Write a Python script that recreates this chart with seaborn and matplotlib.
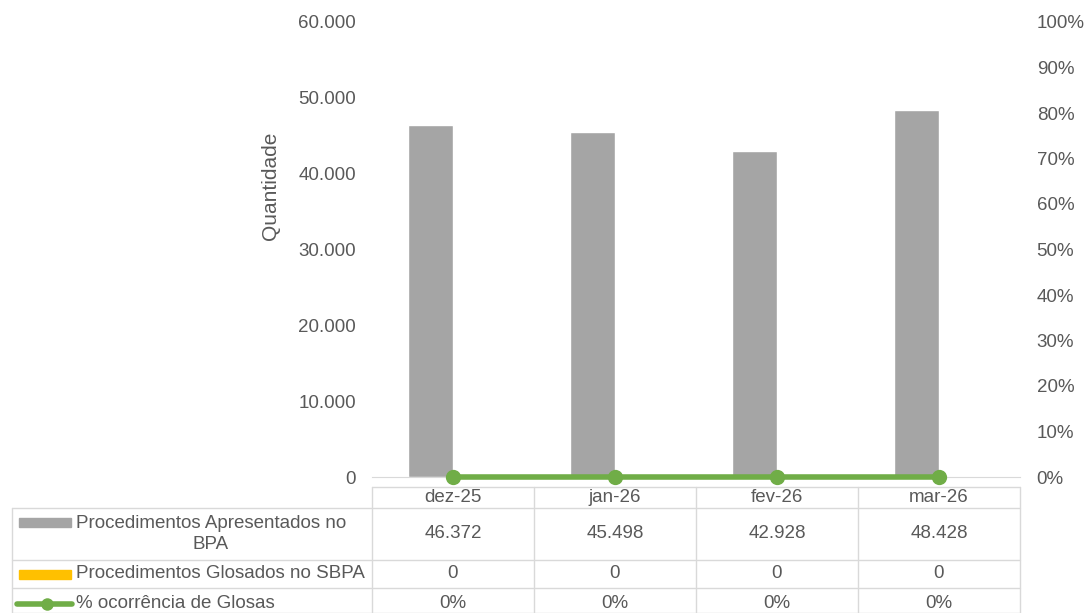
import numpy as np
import pandas as pd
import matplotlib
matplotlib.use("Agg")
import matplotlib.pyplot as plt
import seaborn as sns
from matplotlib.ticker import FuncFormatter, PercentFormatter
from matplotlib.lines import Line2D
from matplotlib.patches import Rectangle

# data
meses = ["dez-25", "jan-26", "fev-26", "mar-26"]
apresentados = [46372, 45498, 42928, 48428]
glosados = [0, 0, 0, 0]
pct_glosas = [0.0, 0.0, 0.0, 0.0]
series = ["Procedimentos Apresentados no\nBPA", "Procedimentos Glosados no SBPA", "% ocorrência de Glosas"]

GREY = "#A5A5A5"
YELLOW = "#FFC000"
GREEN = "#70AD47"
TXT = "#595959"
LINE = "#D9D9D9"
FS = 13.5

sns.set_style("white")
plt.rcParams["font.family"] = ["Liberation Sans", "DejaVu Sans"]
plt.rcParams["font.size"] = FS

W, H = 1089, 613
fig = plt.figure(figsize=(W / 100, H / 100), dpi=100)

# plot area in pixels
x0, x1, y0, y1 = 372, 1020, 22, 477
ax = fig.add_axes([x0 / W, 1 - y1 / H, (x1 - x0) / W, (y1 - y0) / H])

df = pd.DataFrame({
    "mes": meses * 2,
    "valor": apresentados + glosados,
    "serie": [series[0]] * 4 + [series[1]] * 4,
})
sns.barplot(data=df, x="mes", y="valor", hue="serie", palette=[GREY, YELLOW],
            width=0.56, ax=ax, legend=False, saturation=1)
ax.set_xlim(-0.5, 3.5)
ax.set_ylim(0, 60000)
ax.set_yticks(np.arange(0, 60001, 10000))
ax.yaxis.set_major_formatter(FuncFormatter(lambda v, p: f"{int(v):,}".replace(",", ".")))
ax.set_xticks([])
ax.set_xlabel("")
ax.set_ylabel("Quantidade", color=TXT, fontsize=15)
ax.yaxis.set_label_coords(-0.142, 0.64)
ax.tick_params(axis="y", length=0, pad=11.5, colors=TXT, labelsize=FS)
for s in ["top", "left", "right"]:
    ax.spines[s].set_visible(False)
ax.spines["bottom"].set_color(LINE)

ax2 = ax.twinx()
sns.lineplot(x=np.arange(len(meses)), y=pct_glosas, ax=ax2, color=GREEN,
             linewidth=4, marker="o", markersize=11, markeredgewidth=0, clip_on=False)
ax2.set_ylim(0, 1)
ax2.set_yticks(np.arange(0, 1.01, 0.1))
ax2.yaxis.set_major_formatter(PercentFormatter(1, decimals=0))
ax2.tick_params(axis="y", length=0, pad=12, colors=TXT, labelsize=FS)
for s in ax2.spines.values():
    s.set_visible(False)

# data table below the chart
tab = fig.add_axes([0, 0, 1, 1], zorder=-1)
tab.set_xlim(0, W)
tab.set_ylim(H, 0)
tab.axis("off")

col_w = (x1 - x0) / len(meses)
cols = [x0 + i * col_w for i in range(len(meses) + 1)]
rows = [487, 508, 560, 588, 613]
left = 12
kw = dict(color=LINE, lw=1)
tab.plot([x0, x1], [rows[0], rows[0]], **kw)
for r in rows[1:]:
    tab.plot([left, x1], [r, r], **kw)
for c in cols:
    tab.plot([c, c], [rows[0], rows[-1]], **kw)
tab.plot([left, left], [rows[1], rows[-1]], **kw)

for i, m in enumerate(meses):
    cx = x0 + (i + 0.5) * col_w
    tab.text(cx, 497, m, ha="center", va="center", color=TXT)
    tab.text(cx, 534, f"{apresentados[i]:,}".replace(",", "."), ha="center", va="center", color=TXT)
    tab.text(cx, 574, f"{glosados[i]}", ha="center", va="center", color=TXT)
    tab.text(cx, 603, f"{pct_glosas[i]:.0%}", ha="center", va="center", color=TXT)

# legend keys and series names
tab.add_patch(Rectangle((19, 518), 52, 9, color=GREY))
tab.text(211, 534, series[0], ha="center", va="center", multialignment="center",
         color=TXT, linespacing=1.25)
tab.add_patch(Rectangle((19, 570), 52, 9, color=YELLOW))
tab.text(76, 574, series[1], ha="left", va="center", color=TXT)
tab.add_line(Line2D([17, 72], [604, 604], color=GREEN, lw=4))
tab.add_line(Line2D([47], [604], color=GREEN, marker="o", markersize=9, markeredgewidth=0))
tab.text(76, 603, series[2], ha="left", va="center", color=TXT)

fig.savefig("out.png", dpi=100)
